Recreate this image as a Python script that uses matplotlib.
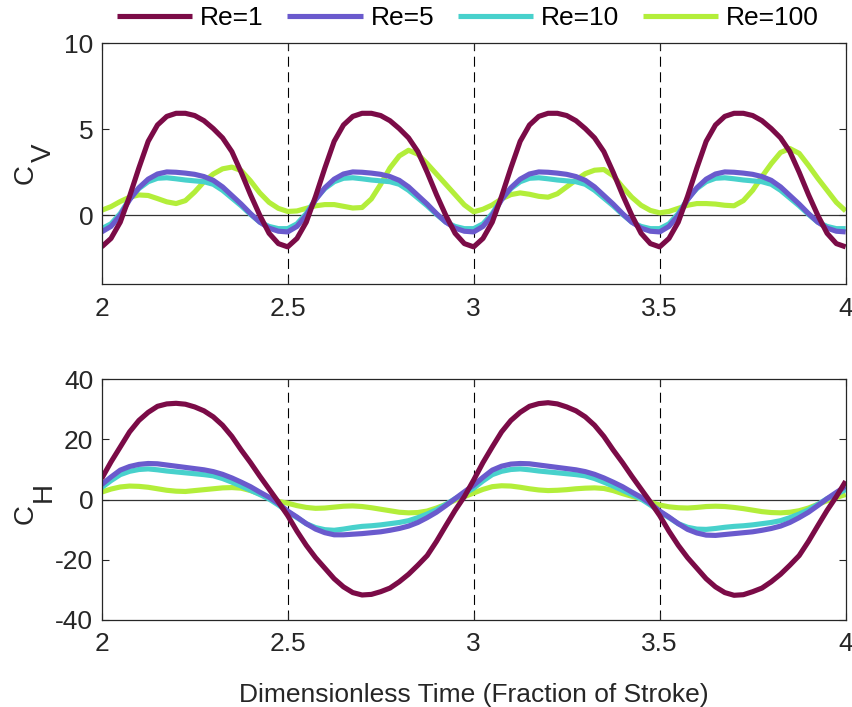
import matplotlib
matplotlib.use("Agg")
import matplotlib.pyplot as plt
import numpy as np

plt.rcParams['font.family'] = ['Liberation Sans', 'DejaVu Sans']
plt.rcParams['axes.unicode_minus'] = False

# sample times (fraction of stroke)
time = np.linspace(2, 4, 81)

labels = ['Re=1', 'Re=5', 'Re=10', 'Re=100']
colors = ['#7B0B47', '#6A5ACD', '#48D1CC', '#B3EE3A']

# vertical force coefficient C_V
cv_re1 = [-1.84, -1.35, -0.40, 1.10, 2.75, 4.30, 5.25, 5.75, 5.93, 5.93, 5.80, 5.50, 5.04, 4.50, 3.70, 2.50, 1.20, 0.00, -1.05, -1.65,
          -1.84, -1.35, -0.40, 1.10, 2.75, 4.30, 5.25, 5.75, 5.93, 5.93, 5.80, 5.50, 5.04, 4.50, 3.70, 2.50, 1.20, 0.00, -1.05, -1.65,
          -1.84, -1.35, -0.40, 1.10, 2.75, 4.30, 5.25, 5.75, 5.93, 5.93, 5.80, 5.50, 5.04, 4.50, 3.70, 2.50, 1.20, 0.00, -1.05, -1.65,
          -1.84, -1.35, -0.40, 1.10, 2.75, 4.30, 5.25, 5.75, 5.93, 5.93, 5.80, 5.50, 5.04, 4.50, 3.70, 2.50, 1.20, 0.00, -1.05, -1.65,
          -1.84]
cv_re5 = [-0.97, -0.65, 0.00, 0.90, 1.60, 2.10, 2.40, 2.52, 2.50, 2.45, 2.38, 2.25, 2.03, 1.65, 1.15, 0.65, 0.10, -0.40, -0.75, -0.93,
          -0.97, -0.65, 0.00, 0.90, 1.60, 2.10, 2.40, 2.52, 2.50, 2.45, 2.38, 2.25, 2.03, 1.65, 1.15, 0.65, 0.10, -0.40, -0.75, -0.93,
          -0.97, -0.65, 0.00, 0.90, 1.60, 2.10, 2.40, 2.52, 2.50, 2.45, 2.38, 2.25, 2.03, 1.65, 1.15, 0.65, 0.10, -0.40, -0.75, -0.93,
          -0.97, -0.65, 0.00, 0.90, 1.60, 2.10, 2.40, 2.52, 2.50, 2.45, 2.38, 2.25, 2.03, 1.65, 1.15, 0.65, 0.10, -0.40, -0.75, -0.93,
          -0.97]
cv_re10 = [-0.78, -0.50, 0.10, 0.95, 1.55, 1.95, 2.15, 2.18, 2.12, 2.05, 2.00, 1.95, 1.80, 1.45, 1.00, 0.55, 0.05, -0.40, -0.65, -0.78,
           -0.78, -0.50, 0.10, 0.95, 1.55, 1.95, 2.15, 2.18, 2.12, 2.05, 2.00, 1.95, 1.80, 1.45, 1.00, 0.55, 0.05, -0.40, -0.65, -0.78,
           -0.78, -0.50, 0.10, 0.95, 1.55, 1.95, 2.15, 2.18, 2.12, 2.05, 2.00, 1.95, 1.80, 1.45, 1.00, 0.55, 0.05, -0.40, -0.65, -0.78,
           -0.78, -0.50, 0.10, 0.95, 1.55, 1.95, 2.15, 2.18, 2.12, 2.05, 2.00, 1.95, 1.80, 1.45, 1.00, 0.55, 0.05, -0.40, -0.65, -0.78,
           -0.78]
cv_re100 = [0.29, 0.50, 0.80, 1.05, 1.18, 1.15, 0.97, 0.78, 0.68, 0.85, 1.35, 1.95, 2.40, 2.70, 2.80, 2.60, 2.00, 1.30, 0.75, 0.40,
            0.22, 0.25, 0.40, 0.55, 0.62, 0.62, 0.52, 0.42, 0.45, 0.95, 1.80, 2.75, 3.45, 3.78, 3.55, 3.00, 2.40, 1.80, 1.20, 0.60,
            0.20, 0.35, 0.60, 0.95, 1.20, 1.30, 1.22, 1.10, 1.05, 1.25, 1.65, 2.05, 2.42, 2.62, 2.66, 2.30, 1.65, 1.05, 0.58, 0.28,
            0.14, 0.22, 0.40, 0.58, 0.68, 0.68, 0.65, 0.58, 0.55, 0.85, 1.45, 2.25, 3.00, 3.65, 3.88, 3.60, 2.90, 2.15, 1.45, 0.75,
            0.25]

# horizontal force coefficient C_H
ch_re1 = [7.0, 12.5, 17.5, 22.5, 26.3, 29.0, 31.0, 31.8, 32.0, 31.7, 30.8, 29.5, 27.5, 24.7, 21.0, 16.5, 12.3, 7.8, 3.5, -0.8,
          -5.3, -10.5, -15.2, -19.3, -22.8, -26.3, -29.0, -30.9, -31.7, -31.5, -30.6, -29.4, -27.3, -24.8, -21.8, -18.6, -13.9, -8.7, -3.6, 1.0,
          6.5, 12.3, 17.5, 22.5, 26.3, 29.0, 31.0, 31.9, 32.2, 31.8, 30.8, 29.5, 27.5, 24.7, 21.0, 16.5, 12.3, 7.8, 3.5, -0.8,
          -5.3, -10.5, -15.2, -19.3, -22.8, -26.3, -29.0, -30.9, -31.8, -31.6, -30.6, -29.4, -27.3, -24.8, -21.8, -18.6, -13.9, -8.7, -3.6, 1.0,
          6.1]
ch_re5 = [5.0, 7.5, 9.8, 11.0, 11.7, 12.0, 11.9, 11.5, 11.1, 10.7, 10.3, 9.9, 9.3, 8.4, 7.2, 5.8, 4.3, 2.5, 0.8, -1.3,
          -3.8, -5.8, -8.0, -9.8, -11.0, -11.7, -11.7, -11.5, -11.3, -11.0, -10.7, -10.2, -9.6, -8.8, -7.6, -6.0, -4.2, -2.0, 0.3, 2.6,
          4.8, 7.4, 9.8, 11.1, 11.8, 12.0, 11.9, 11.5, 11.1, 10.7, 10.3, 9.9, 9.3, 8.4, 7.2, 5.8, 4.3, 2.5, 0.8, -1.3,
          -3.8, -5.8, -8.0, -9.9, -11.1, -11.8, -11.9, -11.6, -11.3, -11.0, -10.7, -10.2, -9.6, -8.8, -7.6, -6.0, -4.2, -2.0, 0.3, 2.4,
          4.4]
ch_re10 = [4.0, 6.3, 8.3, 9.4, 10.0, 10.2, 9.9, 9.5, 9.2, 8.9, 8.6, 8.3, 7.9, 7.0, 5.8, 4.5, 3.1, 1.7, 0.2, -1.8,
           -4.0, -6.0, -8.0, -9.3, -10.0, -10.2, -9.8, -9.3, -8.9, -8.7, -8.4, -8.0, -7.6, -7.0, -6.0, -4.8, -3.4, -1.6, 0.3, 2.0,
           3.8, 6.2, 8.3, 9.4, 10.0, 10.2, 9.9, 9.5, 9.2, 8.9, 8.6, 8.3, 7.9, 7.0, 5.8, 4.5, 3.1, 1.7, 0.2, -1.8,
           -4.0, -6.0, -8.0, -9.2, -9.8, -9.9, -9.6, -9.2, -8.9, -8.7, -8.4, -8.0, -7.6, -7.0, -6.0, -4.8, -3.4, -1.6, 0.3, 1.8,
           3.3]
ch_re100 = [2.5, 3.5, 4.2, 4.5, 4.4, 4.1, 3.6, 3.1, 2.8, 2.7, 3.0, 3.3, 3.6, 3.9, 4.0, 3.8, 3.0, 1.9, 0.6, -0.6,
            -1.2, -2.0, -2.6, -2.9, -2.8, -2.5, -2.2, -2.1, -2.3, -2.7, -3.2, -3.7, -4.2, -4.4, -4.3, -3.8, -2.8, -1.6, -0.2, 1.0,
            2.2, 3.4, 4.3, 4.6, 4.5, 4.1, 3.6, 3.2, 3.0, 3.1, 3.3, 3.6, 3.8, 3.9, 3.7, 3.0, 2.0, 1.1, 0.2, -0.9,
            -1.8, -2.4, -2.7, -2.8, -2.6, -2.3, -2.2, -2.3, -2.6, -3.0, -3.5, -4.0, -4.3, -4.4, -4.2, -3.7, -2.8, -1.6, -0.4, 0.7,
            1.7]

xticks = [2, 2.5, 3, 3.5, 4]
xticklabels = ['2', '2.5', '3', '3.5', '4']
stroke_marks = [2.5, 3, 3.5]

fig = plt.figure(figsize=(8.53, 7.07), dpi=100)
ax1 = fig.add_axes([0.1192, 0.5983, 0.8722, 0.3404])
ax2 = fig.add_axes([0.1192, 0.1231, 0.8722, 0.3405])

panels = [
    (ax1, [cv_re1, cv_re5, cv_re10, cv_re100], (-4, 10), [0, 5, 10]),
    (ax2, [ch_re1, ch_re5, ch_re10, ch_re100], (-40, 40), [-40, -20, 0, 20, 40]),
]

handles = []
for ax, series, ylim, yticks in panels:
    ax.axhline(0, color='#333333', lw=0.9, zorder=1)
    for xm in stroke_marks:
        ax.axvline(xm, color='black', lw=0.8, dashes=(9, 5), zorder=1)
    lines = []
    # draw Re=100 first so Re=1 sits on top
    for vals, c, lab in list(zip(series, colors, labels))[::-1]:
        ln, = ax.plot(time, vals, color=c, lw=3.7, label=lab, zorder=2,
                      solid_capstyle='butt', solid_joinstyle='round')
        lines.append(ln)
    handles = lines[::-1]
    ax.set_xlim(2, 4)
    ax.set_ylim(*ylim)
    ax.set_xticks(xticks)
    ax.set_xticklabels(xticklabels)
    ax.set_yticks(yticks)
    ax.tick_params(direction='in', length=5, width=0.8, top=True, right=True,
                   labelsize=19, colors='#262626')
    ax.tick_params(axis='x', pad=9)
    ax.tick_params(axis='y', pad=6)
    for sp in ax.spines.values():
        sp.set_color('#262626')
        sp.set_linewidth(0.9)

ax2.set_xlabel('Dimensionless Time (Fraction of Stroke)', fontsize=19, color='#262626', labelpad=19)

# y labels: C with full-size lowered subscript
W, H = 853.0, 707.0
for xc, yc, txt in [(33, 173.5, 'C'), (50.5, 152.5, 'V'), (33, 514, 'C'), (50.5, 492.5, 'H')]:
    fig.text(xc / W, 1 - yc / H, txt, rotation=90, fontsize=20, color='#262626',
             ha='center', va='baseline', rotation_mode='anchor')

fig.legend(handles=handles, labels=labels, loc='center', bbox_to_anchor=(468 / W, 1 - 18 / H),
           ncol=4, frameon=False, fontsize=19, handlelength=2.85, handletextpad=0.3,
           columnspacing=0.9, borderaxespad=0, borderpad=0)

fig.savefig('out.png', dpi=100)
